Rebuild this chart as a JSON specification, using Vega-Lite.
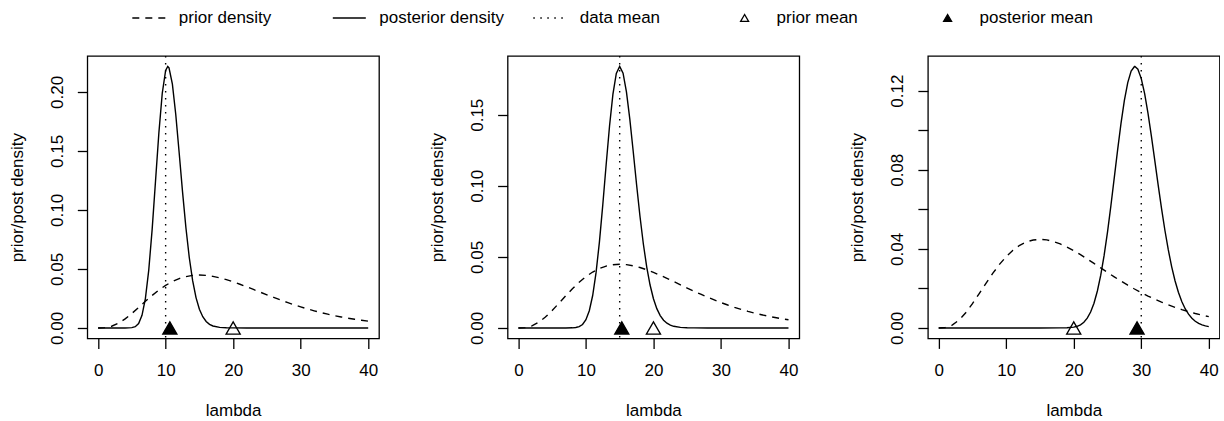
{
  "$schema": "https://vega.github.io/schema/vega-lite/v6.json",
  "background": "white",
  "padding": {"left": 7.3, "top": 0, "right": 0, "bottom": 0},
  "spacing": 47.3,
  "datasets": {
    "prior": [
      {"series": "prior density", "lambda": 0, "density": 0}, {"series": "prior density", "lambda": 1, "density": 0.000218}, {"series": "prior density", "lambda": 2, "density": 0.00143},
      {"series": "prior density", "lambda": 3, "density": 0.003951}, {"series": "prior density", "lambda": 4, "density": 0.007669}, {"series": "prior density", "lambda": 5, "density": 0.012263},
      {"series": "prior density", "lambda": 6, "density": 0.017349}, {"series": "prior density", "lambda": 7, "density": 0.022555}, {"series": "prior density", "lambda": 8, "density": 0.027566},
      {"series": "prior density", "lambda": 9, "density": 0.032134}, {"series": "prior density", "lambda": 10, "density": 0.036089}, {"series": "prior density", "lambda": 11, "density": 0.039328},
      {"series": "prior density", "lambda": 12, "density": 0.041803}, {"series": "prior density", "lambda": 13, "density": 0.043515}, {"series": "prior density", "lambda": 14, "density": 0.044497},
      {"series": "prior density", "lambda": 15, "density": 0.044808}, {"series": "prior density", "lambda": 16, "density": 0.044523}, {"series": "prior density", "lambda": 17, "density": 0.043723},
      {"series": "prior density", "lambda": 18, "density": 0.042494}, {"series": "prior density", "lambda": 19, "density": 0.040918}, {"series": "prior density", "lambda": 20, "density": 0.039075},
      {"series": "prior density", "lambda": 21, "density": 0.037034}, {"series": "prior density", "lambda": 22, "density": 0.034861}, {"series": "prior density", "lambda": 23, "density": 0.032614},
      {"series": "prior density", "lambda": 24, "density": 0.030338}, {"series": "prior density", "lambda": 25, "density": 0.028075}, {"series": "prior density", "lambda": 26, "density": 0.025856},
      {"series": "prior density", "lambda": 27, "density": 0.023707}, {"series": "prior density", "lambda": 28, "density": 0.021647}, {"series": "prior density", "lambda": 29, "density": 0.01969},
      {"series": "prior density", "lambda": 30, "density": 0.017847}, {"series": "prior density", "lambda": 31, "density": 0.016122}, {"series": "prior density", "lambda": 32, "density": 0.014519},
      {"series": "prior density", "lambda": 33, "density": 0.013037}, {"series": "prior density", "lambda": 34, "density": 0.011674}, {"series": "prior density", "lambda": 35, "density": 0.010426},
      {"series": "prior density", "lambda": 36, "density": 0.009289}, {"series": "prior density", "lambda": 37, "density": 0.008257}, {"series": "prior density", "lambda": 38, "density": 0.007323},
      {"series": "prior density", "lambda": 39, "density": 0.006481}, {"series": "prior density", "lambda": 40, "density": 0.005725}
    ],
    "post": [
      {"panel": 1, "lambda": 0, "density": 0}, {"panel": 1, "lambda": 2, "density": 0}, {"panel": 1, "lambda": 3, "density": 0.0000001},
      {"panel": 1, "lambda": 4, "density": 0.0000035}, {"panel": 1, "lambda": 4.5, "density": 0.0000345}, {"panel": 1, "lambda": 5, "density": 0.000226},
      {"panel": 1, "lambda": 5.5, "density": 0.001059}, {"panel": 1, "lambda": 6, "density": 0.003776}, {"panel": 1, "lambda": 6.5, "density": 0.010696},
      {"panel": 1, "lambda": 7, "density": 0.02492}, {"panel": 1, "lambda": 7.5, "density": 0.04904}, {"panel": 1, "lambda": 8, "density": 0.08327},
      {"panel": 1, "lambda": 8.5, "density": 0.12429}, {"panel": 1, "lambda": 9, "density": 0.16548}, {"panel": 1, "lambda": 9.5, "density": 0.19893},
      {"panel": 1, "lambda": 10, "density": 0.21825}, {"panel": 1, "lambda": 10.3125, "density": 0.2216}, {"panel": 1, "lambda": 10.5, "density": 0.22046},
      {"panel": 1, "lambda": 11, "density": 0.20663}, {"panel": 1, "lambda": 11.5, "density": 0.18088}, {"panel": 1, "lambda": 12, "density": 0.14873},
      {"panel": 1, "lambda": 12.5, "density": 0.11552}, {"panel": 1, "lambda": 13, "density": 0.0851}, {"panel": 1, "lambda": 13.5, "density": 0.0597},
      {"panel": 1, "lambda": 14, "density": 0.04003}, {"panel": 1, "lambda": 14.5, "density": 0.02573}, {"panel": 1, "lambda": 15, "density": 0.0159},
      {"panel": 1, "lambda": 15.5, "density": 0.00947}, {"panel": 1, "lambda": 16, "density": 0.00545}, {"panel": 1, "lambda": 16.5, "density": 0.00304},
      {"panel": 1, "lambda": 17, "density": 0.001643}, {"panel": 1, "lambda": 18, "density": 0.000442}, {"panel": 1, "lambda": 19, "density": 0.000107},
      {"panel": 1, "lambda": 20, "density": 0.0000237}, {"panel": 1, "lambda": 22, "density": 0.000001}, {"panel": 1, "lambda": 25, "density": 0},
      {"panel": 1, "lambda": 30, "density": 0}, {"panel": 1, "lambda": 35, "density": 0}, {"panel": 1, "lambda": 40, "density": 0},

      {"panel": 2, "lambda": 0, "density": 0}, {"panel": 2, "lambda": 5, "density": 0}, {"panel": 2, "lambda": 7, "density": 0.0000031},
      {"panel": 2, "lambda": 8, "density": 0.000077}, {"panel": 2, "lambda": 8.5, "density": 0.000287}, {"panel": 2, "lambda": 9, "density": 0.0009},
      {"panel": 2, "lambda": 9.5, "density": 0.002436}, {"panel": 2, "lambda": 10, "density": 0.00577}, {"panel": 2, "lambda": 10.5, "density": 0.01211},
      {"panel": 2, "lambda": 11, "density": 0.02281}, {"panel": 2, "lambda": 11.5, "density": 0.0389}, {"panel": 2, "lambda": 12, "density": 0.06058},
      {"panel": 2, "lambda": 12.5, "density": 0.08676}, {"panel": 2, "lambda": 13, "density": 0.1151}, {"panel": 2, "lambda": 13.5, "density": 0.14223},
      {"panel": 2, "lambda": 14, "density": 0.16451}, {"panel": 2, "lambda": 14.5, "density": 0.179}, {"panel": 2, "lambda": 15, "density": 0.18394},
      {"panel": 2, "lambda": 15.5, "density": 0.1792}, {"panel": 2, "lambda": 16, "density": 0.16609}, {"panel": 2, "lambda": 16.5, "density": 0.14688},
      {"panel": 2, "lambda": 17, "density": 0.12427}, {"panel": 2, "lambda": 17.5, "density": 0.10087}, {"panel": 2, "lambda": 18, "density": 0.07873},
      {"panel": 2, "lambda": 18.5, "density": 0.05923}, {"panel": 2, "lambda": 19, "density": 0.04301}, {"panel": 2, "lambda": 19.5, "density": 0.0302},
      {"panel": 2, "lambda": 20, "density": 0.02056}, {"panel": 2, "lambda": 20.5, "density": 0.01358}, {"panel": 2, "lambda": 21, "density": 0.00872},
      {"panel": 2, "lambda": 21.5, "density": 0.00545}, {"panel": 2, "lambda": 22, "density": 0.003316}, {"panel": 2, "lambda": 22.5, "density": 0.001969},
      {"panel": 2, "lambda": 23, "density": 0.001141}, {"panel": 2, "lambda": 24, "density": 0.000359}, {"panel": 2, "lambda": 25, "density": 0.000104},
      {"panel": 2, "lambda": 26, "density": 0.000028}, {"panel": 2, "lambda": 28, "density": 0.000001}, {"panel": 2, "lambda": 30, "density": 0},
      {"panel": 2, "lambda": 35, "density": 0}, {"panel": 2, "lambda": 40, "density": 0},

      {"panel": 3, "lambda": 0, "density": 0}, {"panel": 3, "lambda": 10, "density": 0}, {"panel": 3, "lambda": 15, "density": 0},
      {"panel": 3, "lambda": 18, "density": 0.000014}, {"panel": 3, "lambda": 19, "density": 0.000087}, {"panel": 3, "lambda": 20, "density": 0.000419},
      {"panel": 3, "lambda": 20.5, "density": 0.00084}, {"panel": 3, "lambda": 21, "density": 0.001595}, {"panel": 3, "lambda": 21.5, "density": 0.002872},
      {"panel": 3, "lambda": 22, "density": 0.004918}, {"panel": 3, "lambda": 22.5, "density": 0.00803}, {"panel": 3, "lambda": 23, "density": 0.012514},
      {"panel": 3, "lambda": 23.5, "density": 0.018674}, {"panel": 3, "lambda": 24, "density": 0.026696}, {"panel": 3, "lambda": 24.5, "density": 0.036693},
      {"panel": 3, "lambda": 25, "density": 0.0485}, {"panel": 3, "lambda": 25.5, "density": 0.06176}, {"panel": 3, "lambda": 26, "density": 0.07588},
      {"panel": 3, "lambda": 26.5, "density": 0.09008}, {"panel": 3, "lambda": 27, "density": 0.10345}, {"panel": 3, "lambda": 27.5, "density": 0.11507},
      {"panel": 3, "lambda": 28, "density": 0.12412}, {"panel": 3, "lambda": 28.5, "density": 0.12996}, {"panel": 3, "lambda": 29, "density": 0.13223},
      {"panel": 3, "lambda": 29.0625, "density": 0.13226}, {"panel": 3, "lambda": 29.5, "density": 0.13088}, {"panel": 3, "lambda": 30, "density": 0.12613},
      {"panel": 3, "lambda": 30.5, "density": 0.11849}, {"panel": 3, "lambda": 31, "density": 0.10853}, {"panel": 3, "lambda": 31.5, "density": 0.09703},
      {"panel": 3, "lambda": 32, "density": 0.08474}, {"panel": 3, "lambda": 32.5, "density": 0.07234}, {"panel": 3, "lambda": 33, "density": 0.06043},
      {"panel": 3, "lambda": 33.5, "density": 0.04941}, {"panel": 3, "lambda": 34, "density": 0.03956}, {"panel": 3, "lambda": 34.5, "density": 0.03104},
      {"panel": 3, "lambda": 35, "density": 0.02389}, {"panel": 3, "lambda": 35.5, "density": 0.01804}, {"panel": 3, "lambda": 36, "density": 0.01337},
      {"panel": 3, "lambda": 36.5, "density": 0.00974}, {"panel": 3, "lambda": 37, "density": 0.00697}, {"panel": 3, "lambda": 37.5, "density": 0.0049},
      {"panel": 3, "lambda": 38, "density": 0.00339}, {"panel": 3, "lambda": 38.5, "density": 0.00231}, {"panel": 3, "lambda": 39, "density": 0.001549},
      {"panel": 3, "lambda": 39.5, "density": 0.001022}, {"panel": 3, "lambda": 40, "density": 0.000665}
    ],
    "means": [
      {"panel": 1, "series": "prior mean", "lambda": 20, "density": 0},
      {"panel": 1, "series": "posterior mean", "lambda": 10.625, "density": 0},
      {"panel": 2, "series": "prior mean", "lambda": 20, "density": 0},
      {"panel": 2, "series": "posterior mean", "lambda": 15.3125, "density": 0},
      {"panel": 3, "series": "prior mean", "lambda": 20, "density": 0},
      {"panel": 3, "series": "posterior mean", "lambda": 29.375, "density": 0}
    ],
    "datamean": [
      {"panel": 1, "series": "data mean", "lambda": 10},
      {"panel": 2, "series": "data mean", "lambda": 15},
      {"panel": 3, "series": "data mean", "lambda": 30}
    ]
  },
  "hconcat": [
    {
      "width": 291.7, "height": 282.4,
      "layer": [
        {"data": {"name": "prior"},
         "mark": {"type": "line", "stroke": "black", "strokeWidth": 1.4},
         "encoding": {
           "x": {"field": "lambda", "type": "quantitative", "scale": {"domain": [-1.6, 41.6], "nice": false, "zero": false}, "axis": {"values": [0, 10, 20, 30, 40], "format": "d", "title": "lambda"}},
           "y": {"field": "density", "type": "quantitative", "scale": {"domain": [-0.008864, 0.230464], "nice": false, "zero": false}, "axis": {"values": [0, 0.05, 0.1, 0.15, 0.2], "format": ".2f", "title": "prior/post density"}},
           "strokeDash": {"field": "series", "type": "nominal", "scale": {"domain": ["prior density", "posterior density", "data mean"], "range": [[7, 6], [1, 0], [1.5, 5.5]]}, "legend": {"title": null, "legendX": 44, "legendY": -55.8}}
         }},
        {"data": {"name": "post"}, "transform": [{"filter": "datum.panel == 1"}],
         "mark": {"type": "line", "stroke": "black", "strokeWidth": 1.4},
         "encoding": {"x": {"field": "lambda", "type": "quantitative"}, "y": {"field": "density", "type": "quantitative"}}},
        {"data": {"name": "datamean"}, "transform": [{"filter": "datum.panel == 1"}],
         "mark": {"type": "rule", "stroke": "black", "strokeWidth": 1.4},
         "encoding": {"x": {"field": "lambda", "type": "quantitative"},
           "strokeDash": {"field": "series", "type": "nominal", "legend": {"title": null, "legendX": 44, "legendY": -55.8}}}},
        {"data": {"name": "means"}, "transform": [{"filter": "datum.panel == 1"}],
         "mark": {"type": "point", "filled": true, "size": 200, "strokeWidth": 1.3, "opacity": 1},
         "encoding": {
           "x": {"field": "lambda", "type": "quantitative"},
           "y": {"field": "density", "type": "quantitative"},
           "shape": {"field": "series", "type": "nominal", "scale": {"domain": ["prior mean", "posterior mean"], "range": ["triangle-up", "triangle-up"]},
             "legend": {"title": null, "orient": "none", "legendX": 648.8, "legendY": -46.8, "columns": 2, "columnPadding": 49, "symbolType": "triangle-up", "symbolSize": 64, "labelOffset": 23.5, "symbolStrokeWidth": 1.3}},
           "fill": {"field": "series", "type": "nominal", "scale": {"domain": ["prior mean", "posterior mean"], "range": ["transparent", "black"]},
             "legend": {"title": null, "orient": "none", "legendX": 648.8, "legendY": -46.8, "columns": 2, "columnPadding": 49, "symbolType": "triangle-up", "symbolSize": 64, "labelOffset": 23.5, "symbolStrokeWidth": 1.3}},
           "stroke": {"field": "series", "type": "nominal", "scale": {"domain": ["prior mean", "posterior mean"], "range": ["black", "black"]},
             "legend": {"title": null, "orient": "none", "legendX": 648.8, "legendY": -46.8, "columns": 2, "columnPadding": 49, "symbolType": "triangle-up", "symbolSize": 64, "labelOffset": 23.5, "symbolStrokeWidth": 1.3}}
         }}
      ]
    },
    {
      "width": 291.7, "height": 282.4,
      "layer": [
        {"data": {"name": "prior"},
         "mark": {"type": "line", "stroke": "black", "strokeWidth": 1.4},
         "encoding": {
           "x": {"field": "lambda", "type": "quantitative", "scale": {"domain": [-1.6, 41.6], "nice": false, "zero": false}, "axis": {"values": [0, 10, 20, 30, 40], "format": "d", "title": "lambda"}},
           "y": {"field": "density", "type": "quantitative", "scale": {"domain": [-0.0073576, 0.1912976], "nice": false, "zero": false}, "axis": {"values": [0, 0.05, 0.1, 0.15], "format": ".2f", "title": "prior/post density"}},
           "strokeDash": {"field": "series", "type": "nominal", "legend": {"title": null, "legendX": 44, "legendY": -55.8}}
         }},
        {"data": {"name": "post"}, "transform": [{"filter": "datum.panel == 2"}],
         "mark": {"type": "line", "stroke": "black", "strokeWidth": 1.4},
         "encoding": {"x": {"field": "lambda", "type": "quantitative"}, "y": {"field": "density", "type": "quantitative"}}},
        {"data": {"name": "datamean"}, "transform": [{"filter": "datum.panel == 2"}],
         "mark": {"type": "rule", "stroke": "black", "strokeWidth": 1.4},
         "encoding": {"x": {"field": "lambda", "type": "quantitative"},
           "strokeDash": {"field": "series", "type": "nominal", "legend": {"title": null, "legendX": 44, "legendY": -55.8}}}},
        {"data": {"name": "means"}, "transform": [{"filter": "datum.panel == 2"}],
         "mark": {"type": "point", "filled": true, "size": 200, "strokeWidth": 1.3, "opacity": 1},
         "encoding": {
           "x": {"field": "lambda", "type": "quantitative"},
           "y": {"field": "density", "type": "quantitative"},
           "shape": {"field": "series", "type": "nominal", "legend": {"title": null, "orient": "none", "legendX": 648.8, "legendY": -46.8, "columns": 2, "columnPadding": 49, "symbolType": "triangle-up", "symbolSize": 64, "labelOffset": 23.5, "symbolStrokeWidth": 1.3}},
           "fill": {"field": "series", "type": "nominal", "legend": {"title": null, "orient": "none", "legendX": 648.8, "legendY": -46.8, "columns": 2, "columnPadding": 49, "symbolType": "triangle-up", "symbolSize": 64, "labelOffset": 23.5, "symbolStrokeWidth": 1.3}},
           "stroke": {"field": "series", "type": "nominal", "legend": {"title": null, "orient": "none", "legendX": 648.8, "legendY": -46.8, "columns": 2, "columnPadding": 49, "symbolType": "triangle-up", "symbolSize": 64, "labelOffset": 23.5, "symbolStrokeWidth": 1.3}}
         }}
      ]
    },
    {
      "width": 291.7, "height": 282.4,
      "layer": [
        {"data": {"name": "prior"},
         "mark": {"type": "line", "stroke": "black", "strokeWidth": 1.4},
         "encoding": {
           "x": {"field": "lambda", "type": "quantitative", "scale": {"domain": [-1.6, 41.6], "nice": false, "zero": false}, "axis": {"values": [0, 10, 20, 30, 40], "format": "d", "title": "lambda"}},
           "y": {"field": "density", "type": "quantitative", "scale": {"domain": [-0.0052904, 0.1375504], "nice": false, "zero": false}, "axis": {"values": [0, 0.02, 0.04, 0.06, 0.08, 0.1, 0.12], "labelExpr": "(round(datum.value*100) % 4 == 0) ? format(datum.value, '.2f') : ''", "title": "prior/post density"}},
           "strokeDash": {"field": "series", "type": "nominal", "legend": {"title": null, "legendX": 44, "legendY": -55.8}}
         }},
        {"data": {"name": "post"}, "transform": [{"filter": "datum.panel == 3"}],
         "mark": {"type": "line", "stroke": "black", "strokeWidth": 1.4},
         "encoding": {"x": {"field": "lambda", "type": "quantitative"}, "y": {"field": "density", "type": "quantitative"}}},
        {"data": {"name": "datamean"}, "transform": [{"filter": "datum.panel == 3"}],
         "mark": {"type": "rule", "stroke": "black", "strokeWidth": 1.4},
         "encoding": {"x": {"field": "lambda", "type": "quantitative"},
           "strokeDash": {"field": "series", "type": "nominal", "legend": {"title": null, "legendX": 44, "legendY": -55.8}}}},
        {"data": {"name": "means"}, "transform": [{"filter": "datum.panel == 3"}],
         "mark": {"type": "point", "filled": true, "size": 200, "strokeWidth": 1.3, "opacity": 1},
         "encoding": {
           "x": {"field": "lambda", "type": "quantitative"},
           "y": {"field": "density", "type": "quantitative"},
           "shape": {"field": "series", "type": "nominal", "legend": {"title": null, "orient": "none", "legendX": 648.8, "legendY": -46.8, "columns": 2, "columnPadding": 49, "symbolType": "triangle-up", "symbolSize": 64, "labelOffset": 23.5, "symbolStrokeWidth": 1.3}},
           "fill": {"field": "series", "type": "nominal", "legend": {"title": null, "orient": "none", "legendX": 648.8, "legendY": -46.8, "columns": 2, "columnPadding": 49, "symbolType": "triangle-up", "symbolSize": 64, "labelOffset": 23.5, "symbolStrokeWidth": 1.3}},
           "stroke": {"field": "series", "type": "nominal", "legend": {"title": null, "orient": "none", "legendX": 648.8, "legendY": -46.8, "columns": 2, "columnPadding": 49, "symbolType": "triangle-up", "symbolSize": 64, "labelOffset": 23.5, "symbolStrokeWidth": 1.3}}
         }}
      ]
    }
  ],
  "config": {
    "font": "Liberation Sans",
    "view": {"stroke": "black", "strokeWidth": 1.3},
    "axis": {
      "domain": false, "grid": false, "ticks": true, "tickColor": "black", "tickWidth": 1.3, "tickSize": 10,
      "labelFont": "Liberation Sans", "labelFontSize": 17, "labelColor": "black", "labelFlush": false, "labelOverlap": false,
      "titleFont": "Liberation Sans", "titleFontSize": 17, "titleFontWeight": "normal", "titleColor": "black"
    },
    "axisX": {"labelPadding": 14, "titleY": 64, "titleBaseline": "top"},
    "axisY": {"labelAngle": 270, "labelAlign": "center", "labelBaseline": "alphabetic", "labelPadding": 15, "titleAngle": 270, "titleX": -65, "titleBaseline": "alphabetic"},
    "legend": {
      "orient": "none", "legendX": 44, "legendY": -55.8, "direction": "horizontal", "columns": 3, "gridAlign": "all",
      "columnPadding": 25.5, "padding": 0, "symbolType": "stroke", "symbolSize": 1089, "symbolStrokeWidth": 1.4, "symbolStrokeColor": "black",
      "labelFont": "Liberation Sans", "labelFontSize": 17, "labelColor": "black", "labelOffset": 12.5, "labelLimit": 300
    }
  }
}
